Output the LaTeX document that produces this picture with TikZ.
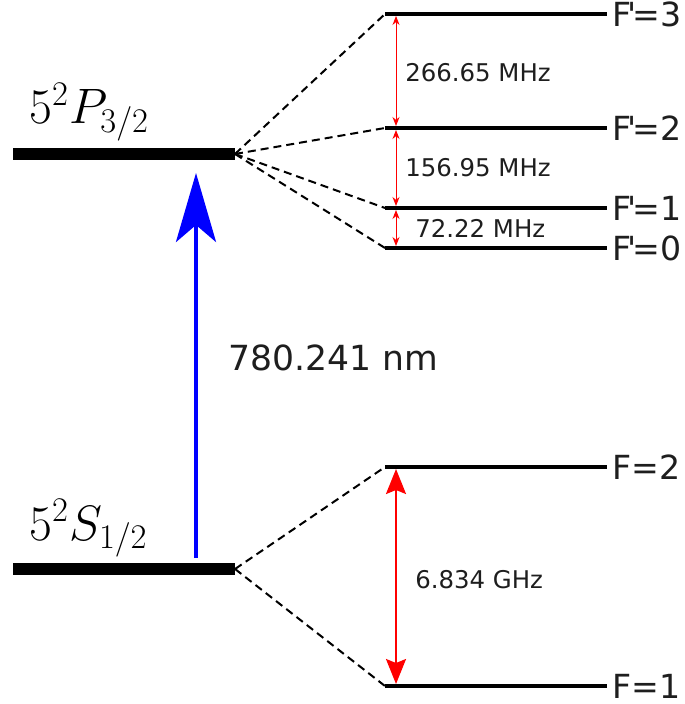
\documentclass[tikz,border=0pt]{standalone}
\usepackage{fontspec}
\usepackage{xcolor}
\usepackage{tikz}
\usetikzlibrary{arrows.meta,positioning}
\newfontfamily\labelfont{DejaVu Sans}
\definecolor{textgray}{RGB}{30,30,30}
\tikzset{
  finelevel/.style={line width=6pt},
  hyperlevel/.style={line width=2pt},
  splitline/.style={line width=1pt, dash pattern=on 4pt off 2.5pt},
  pump/.style={blue, line width=2pt, -{Stealth[length=34.5pt, width=20pt, inset=8.5pt]}},
  smallgap/.style={red, line width=0.5pt, {Stealth[length=4.5pt, width=3.5pt]}-{Stealth[length=4.5pt, width=3.5pt]}, shorten <=1pt, shorten >=1pt},
  biggap/.style={red, line width=1pt, {Stealth[length=12.5pt, width=10pt, inset=2pt]}-{Stealth[length=12.5pt, width=10pt, inset=2pt]}, shorten <=1pt, shorten >=1pt},
  flabel/.style={font=\labelfont\fontsize{16.6}{20}\selectfont, text=textgray, inner sep=0pt, anchor=west},
  gaplabel/.style={font=\labelfont\fontsize{12.2}{15}\selectfont, text=textgray, inner sep=0pt, anchor=west},
  termlabel/.style={font=\fontsize{23.5}{28}\selectfont, inner sep=0pt, anchor=base west}
}
\begin{document}
\begin{tikzpicture}[x=0.5pt, y=-0.5pt]
\useasboundingbox (0,0) rectangle (684,704);
% fine structure levels
\coordinate (Pl) at (13,154); \coordinate (Pr) at (235,154);
\coordinate (Sl) at (13,569); \coordinate (Sr) at (235,569);
\draw[finelevel] (Pl) -- (Pr);
\draw[finelevel] (Sl) -- (Sr);
\node[termlabel] (Pname) at (29,124) {$5^2P_{3/2}$};
\node[termlabel] (Sname) at (29,540) {$5^2S_{1/2}$};
% excited hyperfine levels
\foreach \n/\y in {3/14,2/128,1/208,0/248} {
  \coordinate (Fp\n l) at (385,\y);
  \coordinate (Fp\n r) at (607,\y);
  \coordinate (Fp\n a) at (396,\y);
  \draw[hyperlevel] (Fp\n l) -- (Fp\n r);
  \draw[splitline] (Pr) -- (Fp\n l);
  \node[flabel, right=2.5pt of Fp\n r] (Fp\n name) {F\kern-0.12em'\kern-0.12em=\n};
}
% ground hyperfine levels
\foreach \n/\y in {2/467,1/686} {
  \coordinate (F\n l) at (385,\y);
  \coordinate (F\n r) at (607,\y);
  \coordinate (F\n a) at (396,\y);
  \draw[hyperlevel] (F\n l) -- (F\n r);
  \draw[splitline] (Sr) -- (F\n l);
  \node[flabel, right=2.5pt of F\n r] (F\n name) {F=\n};
}
% splittings
\draw[smallgap] (Fp3a) -- (Fp2a);
\draw[smallgap] (Fp2a) -- (Fp1a);
\draw[smallgap] (Fp1a) -- (Fp0a);
\draw[biggap] (F2a) -- (F1a);
\node[gaplabel] (g32) at (405,73) {266.65 MHz};
\node[gaplabel] (g21) at (405,168) {156.95 MHz};
\node[gaplabel] (g10) at (415,228) {72.22 MHz};
\node[gaplabel] (g21s) at (415,580) {6.834 GHz};
% D2 line
\coordinate (pumpS) at (196,558);
\coordinate (pumpP) at (196,173);
\draw[pump] (pumpS) -- (pumpP);
\node[flabel, font=\labelfont\fontsize{17.3}{21}\selectfont] (wl) at (228,358) {780.241 nm};
\end{tikzpicture}
\end{document}
